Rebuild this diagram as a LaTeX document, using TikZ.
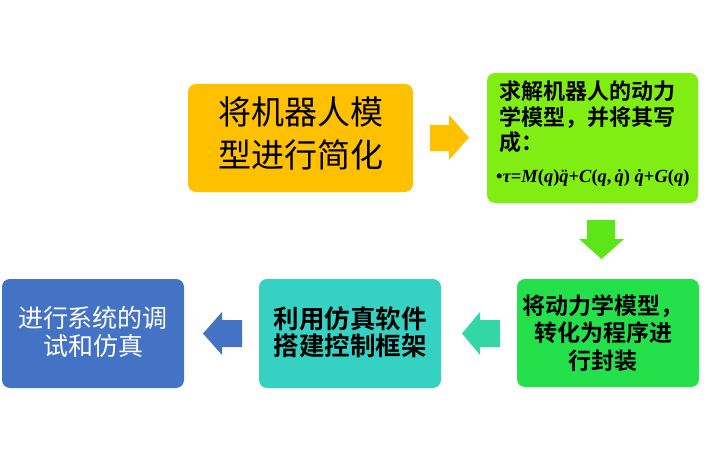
\documentclass[tikz,border=0pt]{standalone}
\usepackage{fontspec}
\newfontfamily\cjk{Noto Sans CJK SC}
\newfontfamily\cjkb{Noto Sans CJK SC Bold}
\newfontfamily\fml{Liberation Serif}
\definecolor{orangeC}{HTML}{FFC000}
\definecolor{limeC}{HTML}{80EE12}
\definecolor{limeA}{HTML}{5CE619}
\definecolor{greenC}{HTML}{23E04B}
\definecolor{tealA}{HTML}{33D6A6}
\definecolor{tealC}{HTML}{35D2C4}
\definecolor{blueC}{HTML}{4472C4}
\newcommand\bi[1]{{\bfseries\itshape #1}}
\newcommand\bu[1]{{\bfseries\upshape #1}}
\newcommand\myformula{\fml\bu{•}\bi{τ}\bu{=}\bi{M}\bu{(}\bi{q}\bu{)}\bi{\"{q}}\bu{+}\bi{C}\bu{(}\bi{q}\bu{,\,}\bi{\.{q}}\bu{)}\ \bi{\.{q}}\bu{+}\bi{G}\bu{(}\bi{q}\bu{)}}
\tikzset{
  box/.style={rounded corners=8pt, inner sep=0pt, align=center}
}
\begin{document}
\begin{tikzpicture}[x=1pt,y=-1pt]
\useasboundingbox (0,0) rectangle (713,460);
% boxes
\fill[orangeC, rounded corners=8pt] (188,84) rectangle (413,192);
\node[box, font=\cjk\fontsize{33}{43}\selectfont] (b1) at (300.5,134) {将机器人模\\型进行简化};
\fill[limeC, rounded corners=8pt] (487,73) rectangle (698,203);
\node[box, anchor=north west, align=left, font=\cjkb\fontsize{22}{25.5}\selectfont] (b2) at (499,81) {求解机器人的动力\\学模型，并将其写\\成：};
\node[anchor=west, inner sep=0pt, font=\fontsize{18.5}{20}\selectfont] (formula) at (496,178) {\myformula};
\fill[greenC, rounded corners=8pt] (517,279) rectangle (699,387);
\node[box, font=\cjkb\fontsize{23}{27.5}\selectfont] (b3) at (603,333) {将动力学模型，\\转化为程序进\\行封装};
\fill[tealC, rounded corners=8pt] (259,279) rectangle (441,388);
\node[box, font=\cjkb\fontsize{25.5}{27.5}\selectfont] (b4) at (350,332) {利用仿真软件\\搭建控制框架};
\fill[blueC, rounded corners=8pt] (2,279) rectangle (184,388);
\node[box, text=white, font=\cjk\fontsize{25}{27.5}\selectfont] (b5) at (93,332) {进行系统的调\\试和仿真};
% block arrows
\fill[orangeC] (430,125) -- (449,125) -- (449,115) -- (469,137.5) -- (449,160) -- (449,151) -- (430,151) -- cycle;
\fill[limeA] (587,220) -- (615,220) -- (615,239) -- (624,239) -- (601.5,259) -- (579,239) -- (587,239) -- cycle;
\fill[tealA] (500,320) -- (480,320) -- (480,312) -- (462,333.5) -- (480,355) -- (480,347) -- (500,347) -- cycle;
\fill[blueC] (242,320) -- (222,320) -- (222,312) -- (203,333.5) -- (222,355) -- (222,347) -- (242,347) -- cycle;
\end{tikzpicture}
\end{document}
